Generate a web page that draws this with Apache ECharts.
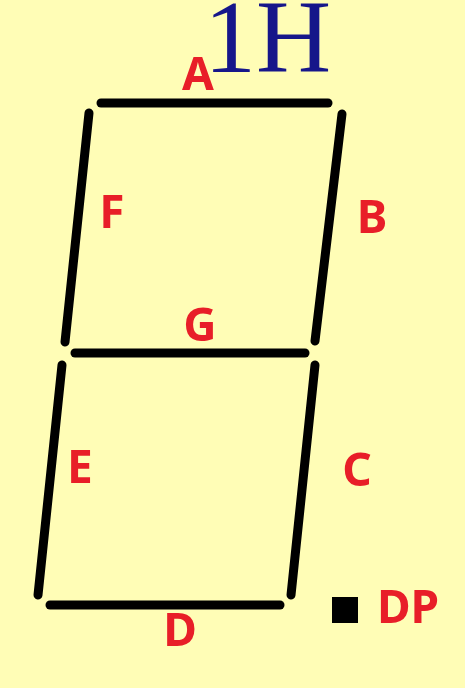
<!DOCTYPE html>
<html>
<head>
<meta charset="utf-8">
<script src="https://cdn.jsdelivr.net/npm/echarts@6/dist/echarts.min.js"></script>
<style>
html,body{margin:0;padding:0;background:#fffdb6;}
#main{width:465px;height:688px;}
</style>
</head>
<body>
<div id="main"></div>
<script>
// segment names and their end points [x1, y1, x2, y2]
var segNames = ['A', 'B', 'C', 'D', 'E', 'F', 'G'];
var segEnds = [
    [101, 103, 328, 103],
    [342, 114, 315, 341],
    [315, 365, 291, 595],
    [50, 605, 280, 605],
    [62, 365, 38, 595],
    [89, 113, 65, 342],
    [75, 353, 305, 353]
];
// decimal point
var dpPos = [345, 610];

// letters beside each segment
var labelNames = ['A', 'B', 'C', 'D', 'E', 'F', 'G', 'DP'];
var labelPos = [
    [198, 77], [372, 220], [357, 473], [180, 633],
    [80, 470], [112, 215], [200, 328], [408, 610]
];

var title = '1H';

var myChart = echarts.init(document.getElementById('main'));

var option = {
    backgroundColor: '#fffdb6',
    animation: false,
    grid: {left: 0, right: 0, top: 0, bottom: 0},
    xAxis: {type: 'value', min: 0, max: 465, show: false},
    yAxis: {type: 'value', min: 0, max: 688, inverse: true, show: false},
    graphic: [{
        type: 'text',
        left: 204,
        top: -7,
        style: {
            text: title,
            font: '104px "Liberation Serif", "DejaVu Serif", serif',
            fill: '#16168a'
        }
    }],
    series: [
        {
            name: 'segments',
            type: 'custom',
            renderItem: function (params, api) {
                var p1 = api.coord([api.value(0), api.value(1)]);
                var p2 = api.coord([api.value(2), api.value(3)]);
                return {
                    type: 'line',
                    shape: {x1: p1[0], y1: p1[1], x2: p2[0], y2: p2[1]},
                    style: {stroke: '#000', lineWidth: 9, lineCap: 'round'}
                };
            },
            data: segEnds.map(function (s, i) {
                return {name: segNames[i], value: s};
            })
        },
        {
            name: 'DP',
            type: 'scatter',
            symbol: 'rect',
            symbolSize: 26,
            itemStyle: {color: '#000', opacity: 1},
            data: [dpPos]
        },
        {
            name: 'labels',
            type: 'scatter',
            symbolSize: 0,
            itemStyle: {opacity: 1},
            label: {
                show: true,
                position: 'inside',
                formatter: '{b}',
                color: '#e81e28',
                fontSize: 46,
                fontWeight: 'bold',
                fontFamily: '"Noto Sans", "DejaVu Sans", sans-serif'
            },
            data: labelPos.map(function (p, i) {
                return {name: labelNames[i], value: p};
            })
        }
    ]
};

myChart.setOption(option);
</script>
</body>
</html>
